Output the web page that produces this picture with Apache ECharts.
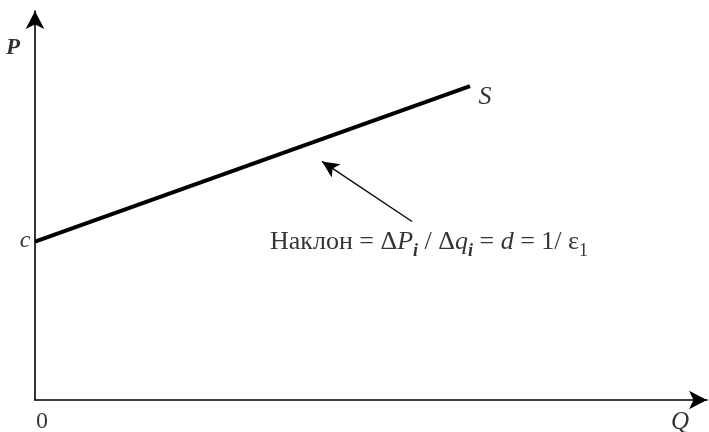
<!DOCTYPE html>
<html>
<head>
<meta charset="utf-8">
<script src="https://cdn.jsdelivr.net/npm/echarts@6/dist/echarts.min.js"></script>
<style>html,body{margin:0;padding:0;background:#fff}#c{width:709px;height:432px}</style>
</head>
<body>
<div id="c"></div>
<script>
// Axis extents (arbitrary units)
const qMax = 672;
const pMax = 388;
// Supply curve S
const supplyQ = [0, 435];
const supplyP = [158, 313];
// Annotation arrow (tail -> head)
const arrowQ = [377, 287];
const arrowP = [178, 238];
// Text labels
const axisNameP = 'P';
const axisNameQ = 'Q';
const originLabel = '0';
const interceptLabel = 'c';
const curveLabel = 'S';
const slopeText = '{r|Наклон = Δ}{it|P}{s|i}{r| / Δ}{it|q}{s|i}{r| = }{it|d}{r| = 1/ ε}{n|1}';

const FONT = '"Liberation Serif", "DejaVu Serif", serif';

const chart = echarts.init(document.getElementById('c'), null, {renderer: 'canvas'});

const supplyData = supplyQ.map((q, i) => [q, supplyP[i]]);

function lbl(text, size, offset, italic, bold) {
  return {
    show: true, position: 'inside', offset: offset,
    formatter: '{t|' + text + '}',
    rich: {t: {fontFamily: FONT, fontSize: size, fontStyle: italic ? 'italic' : 'normal',
      fontWeight: bold ? 'bold' : 'normal', color: '#000'}}
  };
}

const option = {
  backgroundColor: '#fff',
  animation: false,
  grid: {left: 35, right: 2, top: 11, bottom: 32},
  xAxis: {
    type: 'value', min: 0, max: qMax,
    axisLine: {show: true, onZero: false, symbol: ['none', 'arrow'], symbolSize: [14, 18],
      lineStyle: {color: '#000', width: 1.6}},
    axisTick: {show: false}, axisLabel: {show: false}, splitLine: {show: false}
  },
  yAxis: {
    type: 'value', min: 0, max: pMax,
    axisLine: {show: true, onZero: false, symbol: ['none', 'arrow'], symbolSize: [14, 18],
      lineStyle: {color: '#000', width: 1.6}},
    axisTick: {show: false}, axisLabel: {show: false}, splitLine: {show: false}
  },
  series: [
    {
      type: 'line',
      data: supplyData,
      symbol: 'none',
      lineStyle: {color: '#000', width: 4},
      silent: true,
      markLine: {
        silent: true,
        symbol: ['none', 'arrow'],
        symbolSize: [12, 17],
        lineStyle: {color: '#000', width: 1.3, type: 'solid'},
        label: {show: false},
        data: [[
          {coord: [arrowQ[0], arrowP[0]]},
          {coord: [arrowQ[1], arrowP[1]]}
        ]]
      }
    },
    {
      type: 'scatter',
      clip: false,
      silent: true,
      symbolSize: 0,
      data: [
        {value: [0, pMax], label: lbl(axisNameP, 23, [-22, 37], true, true)},
        {value: [qMax, 0], label: lbl(axisNameQ, 25, [-27, 22], true, false)},
        {value: [0, 0], label: lbl(originLabel, 24, [7, 22], false, false)},
        {value: [supplyQ[0], supplyP[0]], label: lbl(interceptLabel, 24, [-10, -1], true, false)},
        {value: [supplyQ[1], supplyP[1]], label: lbl(curveLabel, 26, [15, 11], true, false)},
        {value: [arrowQ[0], arrowP[0]], label: {show: true, position: 'inside', align: 'left', offset: [-142, 21],
          formatter: slopeText,
          rich: {
            r: {fontFamily: FONT, fontSize: 26, lineHeight: 36, verticalAlign: 'middle', color: '#000'},
            it: {fontFamily: FONT, fontSize: 26, lineHeight: 36, verticalAlign: 'middle', fontStyle: 'italic', color: '#000'},
            s: {fontFamily: FONT, fontSize: 18, lineHeight: 18, verticalAlign: 'bottom', fontStyle: 'italic', fontWeight: 'bold', color: '#000'},
            n: {fontFamily: FONT, fontSize: 18, lineHeight: 18, verticalAlign: 'bottom', color: '#000'}
          }}}
      ]
    }
  ]
};
chart.setOption(option);
</script>
</body>
</html>
